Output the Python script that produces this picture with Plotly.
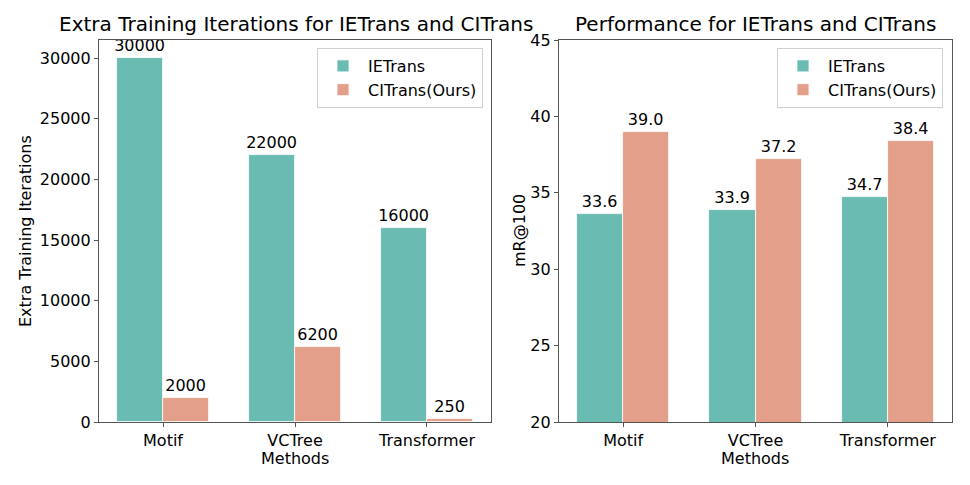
import plotly.graph_objects as go

methods = ["Motif", "VCTree", "Transformer"]
iters_ietrans = [30000, 22000, 16000]
iters_citrans = [2000, 6200, 250]
perf_ietrans = [33.6, 33.9, 34.7]
perf_citrans = [39.0, 37.2, 38.4]

teal = "rgb(106,187,177)"
salmon = "rgb(227,159,137)"
spine = "#555555"
FONT = "DejaVu Sans"
xpos = list(range(len(methods)))

W, H = 970, 485
def fx(px):
    return px / W
def fy(py):
    return 1 - py / H

fig = go.Figure()

def add_bars(vals, name, color, offset, xa, ya, legend, fmt):
    fig.add_trace(go.Bar(
        x=xpos, y=vals, name=name, width=0.35, offset=offset,
        marker=dict(color=color, line=dict(color="white", width=0.8)),
        text=[fmt.format(v) for v in vals], textposition="outside",
        textfont=dict(size=16, color="black", family=FONT),
        constraintext="none", cliponaxis=False,
        xaxis=xa, yaxis=ya, legend=legend, showlegend=True,
    ))

add_bars(iters_ietrans, "IETrans", teal, -0.35, "x", "y", "legend", "{:d}")
add_bars(iters_citrans, "CITrans(Ours)", salmon, 0.0, "x", "y", "legend", "{:d}")
add_bars(perf_ietrans, "IETrans", teal, -0.35, "x2", "y2", "legend2", "{:.1f}")
add_bars(perf_citrans, "CITrans(Ours)", salmon, 0.0, "x2", "y2", "legend2", "{:.1f}")

axis_common = dict(
    showline=True, mirror=True, linecolor=spine, linewidth=1.2,
    ticks="outside", ticklen=4, tickcolor=spine, tickwidth=1.2,
    showgrid=False, zeroline=False, automargin=False,
    tickfont=dict(size=16, color="black", family=FONT),
)

xl, xr = fx(99), fx(491)
x2l, x2r = fx(559), fx(952)
yb, yt = fy(422), fy(40)

fig.update_layout(
    width=W, height=H,
    margin=dict(l=0, r=0, t=0, b=0, autoexpand=False),
    paper_bgcolor="white", plot_bgcolor="white",
    font=dict(family=FONT, size=16, color="black"),
    bargap=0, barmode="overlay",
    xaxis=dict(axis_common, domain=[xl, xr], range=[-0.485, 2.485],
               tickvals=xpos, ticktext=methods, anchor="y"),
    yaxis=dict(axis_common, domain=[yb, yt], range=[0, 31500], tickformat="d",
               tickvals=[0, 5000, 10000, 15000, 20000, 25000, 30000], anchor="x"),
    xaxis2=dict(axis_common, domain=[x2l, x2r], range=[-0.485, 2.485],
                tickvals=xpos, ticktext=methods, anchor="y2"),
    yaxis2=dict(axis_common, domain=[yb, yt], range=[20, 45],
                tickvals=[20, 25, 30, 35, 40, 45], anchor="x2"),
    legend=dict(x=fx(483), y=fy(48), xanchor="right", yanchor="top",
                bgcolor="rgba(255,255,255,0.8)", bordercolor="#d0d0d0", borderwidth=1,
                font=dict(size=16, family=FONT), itemwidth=40, tracegroupgap=2),
    legend2=dict(x=fx(943), y=fy(48), xanchor="right", yanchor="top",
                 bgcolor="rgba(255,255,255,0.8)", bordercolor="#d0d0d0", borderwidth=1,
                 font=dict(size=16, family=FONT), itemwidth=40, tracegroupgap=2),
    annotations=[
        dict(text="Extra Training Iterations for IETrans and CITrans", x=fx(296), y=fy(24),
             xref="paper", yref="paper", showarrow=False, font=dict(size=20, family=FONT),
             xanchor="center", yanchor="middle"),
        dict(text="Performance for IETrans and CITrans", x=fx(755), y=fy(24),
             xref="paper", yref="paper", showarrow=False, font=dict(size=20, family=FONT),
             xanchor="center", yanchor="middle"),
        dict(text="Extra Training Iterations", x=fx(25), y=(yb + yt) / 2, textangle=-90,
             xref="paper", yref="paper", showarrow=False, font=dict(size=16, family=FONT),
             xanchor="center", yanchor="middle"),
        dict(text="mR@100", x=fx(519), y=(yb + yt) / 2, textangle=-90,
             xref="paper", yref="paper", showarrow=False, font=dict(size=16, family=FONT),
             xanchor="center", yanchor="middle"),
        dict(text="Methods", x=(xl + xr) / 2, y=fy(458),
             xref="paper", yref="paper", showarrow=False, font=dict(size=16, family=FONT),
             xanchor="center", yanchor="middle"),
        dict(text="Methods", x=(x2l + x2r) / 2, y=fy(458),
             xref="paper", yref="paper", showarrow=False, font=dict(size=16, family=FONT),
             xanchor="center", yanchor="middle"),
    ],
)

fig.write_html("out.html", config={"displayModeBar": False},
               post_script="document.body.style.margin='0';document.body.style.overflow='hidden';")
